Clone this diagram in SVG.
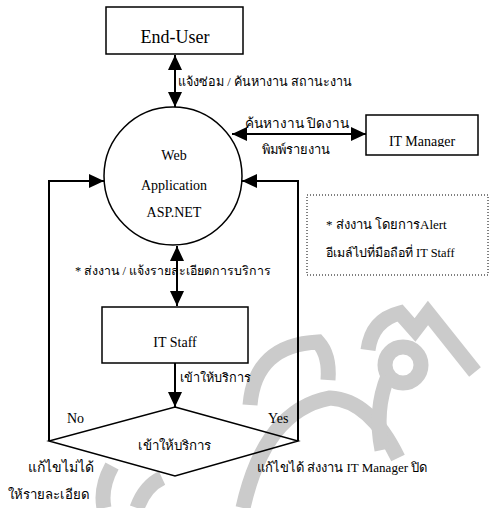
<svg xmlns="http://www.w3.org/2000/svg" width="490" height="508" viewBox="0 0 490 508">
<defs>
<style>
.box{fill:#fff;stroke:#000;stroke-width:1.5}
.ln{fill:none;stroke:#000;stroke-width:2}
text{font-family:'Liberation Serif','Times New Roman',Norasi,serif;font-size:13px;fill:#000}
.lat{font-size:14px}
.wm{fill:none;stroke:#cbcbcb;stroke-width:15}
</style>
<marker id="ah" markerUnits="userSpaceOnUse" markerWidth="15" markerHeight="14" refX="15" refY="7" orient="auto-start-reverse" viewBox="0 0 15 14">
<path d="M0,0 L15,7 L0,14 z" fill="#000"/>
</marker>
<clipPath id="clipM"><rect x="366" y="115" width="112" height="32"/></clipPath>
</defs>
<rect width="490" height="508" fill="#fff"/>
<g id="watermark">
<path class="wm" d="M112 466 Q100 488 104 508"/>
<path class="wm" d="M137 508 Q145 486 162 478"/>
<path class="wm" d="M243 508 Q265 410 330 398 Q370 400 398 458"/>
<path class="wm" d="M250 405 Q255 345 318 342 Q330 355 328 380"/>
<path class="wm" d="M368 350 Q372 320 400 313 L415 330 L428 313 L475 372"/>
<circle class="wm" cx="403" cy="365" r="18"/>
<path class="wm" d="M388 376 Q374 410 382 450"/>
</g>
<g id="connectors">
<line class="ln" x1="175" y1="55" x2="175" y2="107" marker-start="url(#ah)" marker-end="url(#ah)"/>
<line class="ln" x1="232" y1="134" x2="366" y2="134" marker-start="url(#ah)" marker-end="url(#ah)"/>
<polyline class="ln" points="49,441 49,181 104,181" marker-end="url(#ah)"/>
<polyline class="ln" points="298,441 298,181 242,181" marker-end="url(#ah)"/>
<line class="ln" x1="177" y1="246" x2="177" y2="306" marker-start="url(#ah)" marker-end="url(#ah)"/>
<line class="ln" x1="175" y1="363" x2="175" y2="407" marker-end="url(#ah)"/>
<text x="178" y="86" style="font-size:12.6px">แจ้งซ่อม / ค้นหางาน สถานะงาน</text>
<text x="245" y="128" style="font-size:13.6px">ค้นหางาน ปิดงาน</text>
<text x="262" y="154" style="font-size:12.9px">พิมพ์รายงาน</text>
<text x="75" y="275" style="font-size:12.4px">* ส่งงาน / แจ้งรายละเอียดการบริการ</text>
<text x="180" y="382" style="font-size:12.7px">เข้าให้บริการ</text>
<text class="lat" x="67" y="423">No</text>
<text class="lat" x="268" y="423">Yes</text>
<text x="28" y="472" style="font-size:14px">แก้ไขไม่ได้</text>
<text x="8" y="499" style="font-size:13.2px">ให้รายละเอียด</text>
<text x="257" y="472" style="font-size:13px">แก้ไขได้ ส่งงาน IT Manager ปิด</text>
</g>
<g id="end-user">
<rect class="box" x="106" y="7" width="137" height="47"/>
<text x="175" y="43" text-anchor="middle" style="font-size:18px">End-User</text>
</g>
<g id="web-app">
<circle class="box" cx="173" cy="176" r="69"/>
<text class="lat" x="174" y="160" text-anchor="middle">Web</text>
<text class="lat" x="174" y="190" text-anchor="middle">Application</text>
<text class="lat" x="174" y="217" text-anchor="middle">ASP.NET</text>
</g>
<g id="it-manager">
<rect class="box" x="366" y="115" width="112" height="40"/>
<text class="lat" x="422" y="146" text-anchor="middle" clip-path="url(#clipM)">IT Manager</text>
</g>
<g id="note">
<rect x="307" y="195" width="181" height="80" fill="none" stroke="#000" stroke-width="1" stroke-dasharray="1,2"/>
<text x="326" y="229">* ส่งงาน โดยการAlert</text>
<text x="326" y="257" style="font-size:12.4px">อีเมล์ไปที่มือถือที่ IT Staff</text>
</g>
<g id="it-staff">
<rect class="box" x="102" y="307" width="146" height="56"/>
<text class="lat" x="175" y="347" text-anchor="middle">IT Staff</text>
</g>
<g id="decision">
<polygon points="175,407 298,441 175,476 49,441" fill="none" stroke="#000" stroke-width="1.5"/>
<text x="174" y="450" text-anchor="middle" style="font-size:13.3px">เข้าให้บริการ</text>
</g>
</svg>
